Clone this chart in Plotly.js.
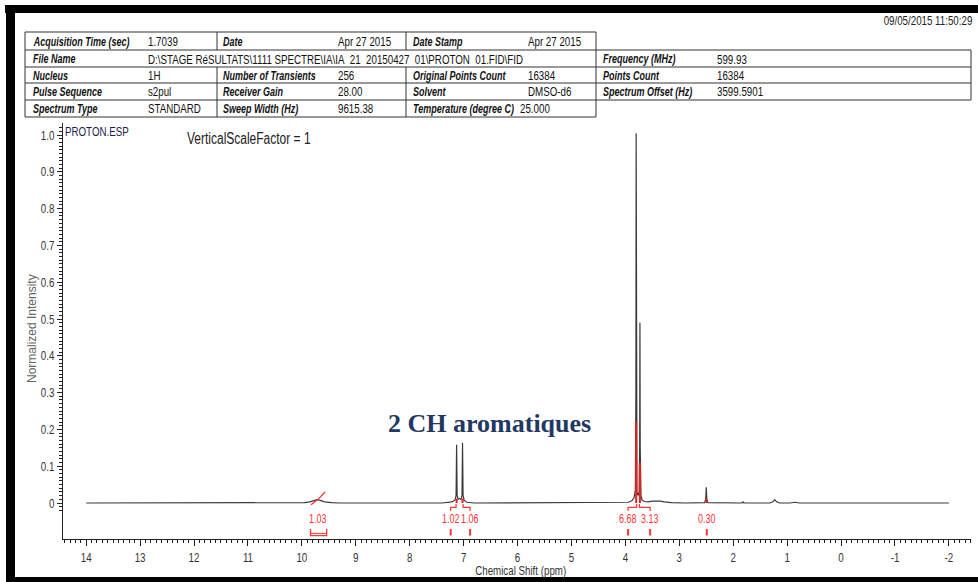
<!DOCTYPE html>
<html>
<head>
<meta charset="utf-8">
<script src="https://cdn.plot.ly/plotly-3.0.1.min.js"></script>
<style>
html,body{margin:0;padding:0;background:#fff;}
#chart{width:978px;height:582px;}
</style>
</head>
<body>
<div id="chart"></div>
<script>
// ---------- DATA ----------
const specPpm = [14.0, 10.2, 9.95, 9.85, 9.78, 9.72, 9.66, 9.58, 9.45, 9.3, 7.40, 7.22, 7.16, 7.14, 7.13, 7.12, 7.10, 7.075, 7.05, 7.03, 7.02, 7.01, 6.99, 6.94, 6.80, 4.20, 3.95, 3.88, 3.84, 3.815, 3.805, 3.80, 3.795, 3.785, 3.765, 3.745, 3.735, 3.73, 3.725, 3.71, 3.69, 3.65, 3.58, 3.50, 3.42, 3.35, 3.28, 3.15, 2.90, 2.53, 2.51, 2.50, 2.49, 2.47, 1.86, 1.83, 1.82, 1.81, 1.78, 1.32, 1.26, 1.23, 1.20, 1.14, 0.95, 0.85, 0.78, 0.60, -2.0];
const specInt = [0, 0, 0.001, 0.003, 0.006, 0.009, 0.007, 0.003, 0.001, 0, 0, 0.003, 0.008, 0.02, 0.158, 0.02, 0.01, 0.012, 0.01, 0.02, 0.164, 0.02, 0.007, 0.002, 0, 0, 0.002, 0.006, 0.014, 0.035, 0.3, 1.005, 0.3, 0.03, 0.02, 0.03, 0.15, 0.49, 0.15, 0.02, 0.008, 0.004, 0.003, 0.005, 0.006, 0.005, 0.003, 0.001, 0, 0.001, 0.01, 0.043, 0.01, 0.001, 0, 0.001, 0.004, 0.001, 0, 0, 0.004, 0.009, 0.004, 0, 0, 0.002, 0, 0, 0];

// red overlay on peak feet
const redPpm = [3.80, 3.73, 7.13, 7.02, 2.50];
const redTop = [0.22, 0.11, 0.012, 0.012, 0.012];

// integral curve of the broad signal near 9.7 ppm
const intCurvePpm = [9.83, 9.70, 9.57];
const intCurveY = [-0.005, 0.010, 0.030];

// integration labels
const integralLabels = ['1.03', '1.02', '1.06', '6.68', '3.13', '0.30'];
const integralPpm = [9.70, 7.24, 6.88, 3.95, 3.54, 2.49];
const integralPeakPpm = [null, 7.14, 7.01, 3.79, 3.74, null];
const rangeBracket = [9.84, 9.54]; // bracket under 1.03

// axis ticks
const xTickVals = [14, 13, 12, 11, 10, 9, 8, 7, 6, 5, 4, 3, 2, 1, 0, -1, -2];
const xTickText = ['14', '13', '12', '11', '10', '9', '8', '7', '6', '5', '4', '3', '2', '1', '0', '-1', '-2'];
const yTickVals = [0, 0.1, 0.2, 0.3, 0.4, 0.5, 0.6, 0.7, 0.8, 0.9, 1.0];
const yTickText = ['0', '0.1', '0.2', '0.3', '0.4', '0.5', '0.6', '0.7', '0.8', '0.9', '1.0'];

// header table
const tableRows = [
  ['Acquisition Time (sec)', '1.7039', 'Date', 'Apr 27 2015', 'Date Stamp', 'Apr 27 2015'],
  ['File Name', 'D:\\STAGE RéSULTATS\\1111 SPECTRE\\IA\\IA\u00a0 21\u00a0 20150427\u00a0 01\\PROTON\u00a0 01.FID\\FID'],
  ['Nucleus', '1H', 'Number of Transients', '256', 'Original Points Count', '16384'],
  ['Pulse Sequence', 's2pul', 'Receiver Gain', '28.00', 'Solvent', 'DMSO-d6'],
  ['Spectrum Type', 'STANDARD', 'Sweep Width (Hz)', '9615.38', 'Temperature (degree C)', '25.000']
];
const sideRows = [
  ['Frequency (MHz)', '599.93'],
  ['Points Count', '16384'],
  ['Spectrum Offset (Hz)', '3599.5901']
];
const dateStamp = '09/05/2015 11:50:29';

// ---------- LAYOUT HELPERS ----------
const W = 978, H = 582;
const L = 63, R = 971, T = 123, B = 539;
const px = x => (x - L) / (R - L);
const py = y => (B - y) / (B - T);
const SANS = '"Liberation Sans", Arial, sans-serif';
const NARROW_SCALE = 0.75;   // horizontal squeeze to imitate the condensed face

const shapes = [];
const annotations = [];

// outer black frame
shapes.push({type:'rect', xref:'paper', yref:'paper', x0:px(5), x1:px(978), y0:py(13), y1:py(5), fillcolor:'#000', line:{width:0}, layer:'above'});
shapes.push({type:'rect', xref:'paper', yref:'paper', x0:px(6), x1:px(15), y0:py(582), y1:py(5), fillcolor:'#000', line:{width:0}, layer:'above'});
shapes.push({type:'rect', xref:'paper', yref:'paper', x0:px(6), x1:px(978), y0:py(582), y1:py(577), fillcolor:'#000', line:{width:0}, layer:'above'});

// table grid
const rowY = [32, 50, 67, 83, 100, 117];
const tL = 25, c1 = 217, c2 = 406, tR = 596, sR = 971;
function hline(x0, x1, y) { shapes.push({type:'line', xref:'paper', yref:'paper', x0:px(x0), x1:px(x1), y0:py(y), y1:py(y), line:{color:'#333', width:1}}); }
function vline(x, y0, y1) { shapes.push({type:'line', xref:'paper', yref:'paper', x0:px(x), x1:px(x), y0:py(y0), y1:py(y1), line:{color:'#333', width:1}}); }
rowY.forEach(y => hline(tL, tR, y));
vline(tL, rowY[0], rowY[5]);
vline(tR, rowY[0], rowY[5]);
[0, 2, 3, 4].forEach(r => { vline(c1, rowY[r], rowY[r + 1]); vline(c2, rowY[r], rowY[r + 1]); });
[1, 2, 3, 4].forEach(i => hline(tR, sR, rowY[i]));
vline(sR, rowY[1], rowY[4]);

function leftText(x, y, text, font) {
  annotations.push({xref:'paper', yref:'paper', x:px(x), y:py(y), xanchor:'left', yanchor:'middle', align:'left',
    showarrow:false, borderpad:0, text:text, font:font});
}
const colX = [32, 147, 222, 337, 412, 527];
tableRows.forEach((row, r) => {
  const yc = (rowY[r] + rowY[r + 1]) / 2 + 0.5;
  row.forEach((txt, c) => {
    let x = colX[c];
    if (r === 4 && c === 5) x = 519;
    const isLabel = (c % 2 === 0);
    leftText(x, yc, isLabel ? '<i><b>' + txt + '</b></i>' : txt,
      {family:SANS, size:isLabel ? 12 : 13, color:'#111'});
  });
});
sideRows.forEach((row, i) => {
  const yc = (rowY[i + 1] + rowY[i + 2]) / 2 + 0.5;
  leftText(602, yc, '<i><b>' + row[0] + '</b></i>', {family:SANS, size:12, color:'#111'});
  leftText(716, yc, row[1], {family:SANS, size:13, color:'#111'});
});
annotations.push({xref:'paper', yref:'paper', x:px(973), y:py(20), xanchor:'right', yanchor:'middle', align:'right', borderpad:0, showarrow:false,
  text:dateStamp, font:{family:SANS, size:13, color:'#222'}});

// texts inside the plot
leftText(64, 131, 'PROTON.ESP', {family:SANS, size:13, color:'#1c1c4a'});
leftText(186, 138, 'VerticalScaleFactor = 1', {family:SANS, size:16, color:'#222'});
annotations.push({xref:'paper', yref:'paper', x:px(489), y:py(423), xanchor:'center', yanchor:'middle', showarrow:false,
  text:'<b>2 CH aromatiques</b>', font:{family:'"Liberation Serif", "Times New Roman", serif', size:26, color:'#1F3864'}});
annotations.push({xref:'paper', yref:'paper', x:px(32), y:py(329), xanchor:'center', yanchor:'middle', showarrow:false, textangle:-90,
  text:'Normalized Intensity', font:{family:'"Liberation Sans Rot", ' + SANS, size:12, color:'#666'}});
annotations.push({xref:'paper', yref:'paper', x:px(520), y:py(570), xanchor:'center', yanchor:'middle', showarrow:false, borderpad:0,
  text:'Chemical Shift (ppm)', font:{family:SANS, size:13, color:'#333'}});

// integration labels, ticks and brackets (data coords)
const RED = '#ff3434';
const yLab = -0.0435, yT0 = -0.0707, yT1 = -0.0885;
const yB0 = -0.022, yB1 = -0.012, yB2 = -0.003;
integralLabels.forEach((lab, i) => {
  const p = integralPpm[i];
  annotations.push({xref:'x', yref:'y', x:p, y:yLab, xanchor:'center', yanchor:'middle', showarrow:false, borderpad:0,
    text:lab, font:{family:SANS, size:12, color:RED}});
  if (i === 0) {
    const a = rangeBracket[0], b = rangeBracket[1];
    shapes.push({type:'path', xref:'x', yref:'y', path:`M ${a},${yT0} L ${a},${yT1} L ${b},${yT1} L ${b},${yT0}`, line:{color:RED, width:1.3}});
    shapes.push({type:'line', xref:'x', yref:'y', x0:a, x1:b, y0:yT1 + 0.006, y1:yT1 + 0.006, line:{color:RED, width:1}});
  } else {
    shapes.push({type:'line', xref:'x', yref:'y', x0:p, x1:p, y0:yT0, y1:yT1, line:{color:RED, width:2}});
  }
  const pk = integralPeakPpm[i];
  if (pk !== null) {
    shapes.push({type:'path', xref:'x', yref:'y', path:`M ${p},${yB0} L ${p},${yB1} L ${pk},${yB1} L ${pk},${yB2}`, line:{color:RED, width:1.2}});
  }
});

// ---------- TRACES ----------
const redX = [], redY = [];
redPpm.forEach((p, i) => { redX.push(p, p, null); redY.push(0, redTop[i], null); });

const traces = [
  {x:specPpm, y:specInt, type:'scatter', mode:'lines', line:{color:'#3a3a3a', width:1.2}, hoverinfo:'none'},
  {x:redX, y:redY, type:'scatter', mode:'lines', line:{color:'#ee1c1c', width:2}, hoverinfo:'none'},
  {x:intCurvePpm, y:intCurveY, type:'scatter', mode:'lines', line:{color:RED, width:1.3}, hoverinfo:'none'}
];

const yMinor = [];
for (let k = -2; k <= 102; k++) yMinor.push(k / 100);

const layout = {
  width:W, height:H,
  margin:{l:L, r:W - R, t:T, b:H - B, pad:0},
  paper_bgcolor:'#fff', plot_bgcolor:'#fff',
  showlegend:false,
  xaxis:{range:[14.43, -2.41], showgrid:false, zeroline:false, showline:true, linecolor:'#222', linewidth:1,
    ticks:'outside', ticklen:6, tickwidth:1, tickcolor:'#222',
    tickmode:'array', tickvals:xTickVals, ticktext:xTickText,
    tickfont:{family:SANS, size:13, color:'#333'},
    minor:{tickmode:'linear', tick0:0, dtick:0.1, ticks:'outside', ticklen:3, tickwidth:1, tickcolor:'#222', showgrid:false}},
  yaxis:{range:[-0.0978, 1.0326], showgrid:false, zeroline:false, showline:true, linecolor:'#222', linewidth:1,
    ticks:'outside', ticklen:5, tickwidth:1, tickcolor:'#222',
    tickmode:'array', tickvals:yTickVals, ticktext:yTickText,
    tickfont:{family:SANS, size:13, color:'#333'},
    minor:{tickmode:'array', tickvals:yMinor, ticks:'outside', ticklen:3, tickwidth:1, tickcolor:'#222', showgrid:false}},
  shapes:shapes,
  annotations:annotations
};

Plotly.newPlot('chart', traces, layout, {displayModeBar:false, staticPlot:true}).then(gd => {
  // imitate the condensed sans face of the original print by squeezing sans texts horizontally
  gd.querySelectorAll('text').forEach(t => {
    const ff = t.style.fontFamily || '';
    if (ff.indexOf('Sans') < 0 || ff.indexOf('Rot') >= 0) return;
    const bb = t.getBBox();
    if (!bb.width) return;
    const anchor = t.getAttribute('text-anchor') || t.style.textAnchor || 'start';
    let a = bb.x;
    if (anchor === 'middle') a = bb.x + bb.width / 2;
    else if (anchor === 'end') a = bb.x + bb.width;
    const tr = t.getAttribute('transform') || '';
    t.setAttribute('transform', tr + ` translate(${a},0) scale(${NARROW_SCALE},1) translate(${-a},0)`);
  });
});
</script>
</body>
</html>
